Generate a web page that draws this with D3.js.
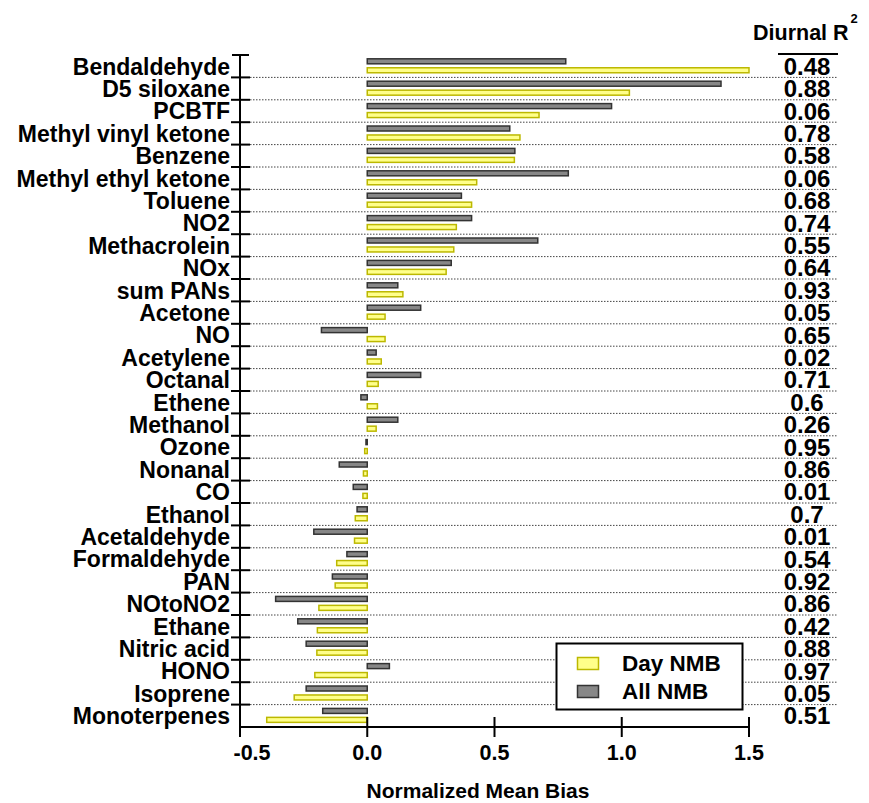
<!DOCTYPE html>
<html>
<head>
<meta charset="utf-8">
<script src="https://cdn.jsdelivr.net/npm/d3@7"></script>
<style>
  html, body { margin: 0; padding: 0; background: #fff; }
  svg { display: block; }
  text { font-family: "Liberation Sans", Arial, "DejaVu Sans", sans-serif; font-weight: bold; fill: #000; }
</style>
</head>
<body>
<svg id="chart" width="869" height="803"></svg>
<script>
// Species, top to bottom
const categories = [
  "Bendaldehyde", "D5 siloxane", "PCBTF", "Methyl vinyl ketone", "Benzene",
  "Methyl ethyl ketone", "Toluene", "NO2", "Methacrolein", "NOx",
  "sum PANs", "Acetone", "NO", "Acetylene", "Octanal",
  "Ethene", "Methanol", "Ozone", "Nonanal", "CO",
  "Ethanol", "Acetaldehyde", "Formaldehyde", "PAN", "NOtoNO2",
  "Ethane", "Nitric acid", "HONO", "Isoprene", "Monoterpenes"
];

// Normalized mean bias, all hours
const allNMB = [
  0.78, 1.39, 0.96, 0.56, 0.58,
  0.79, 0.37, 0.41, 0.67, 0.33,
  0.12, 0.21, -0.18, 0.035, 0.21,
  -0.025, 0.12, -0.005, -0.11, -0.055,
  -0.04, -0.21, -0.08, -0.137, -0.36,
  -0.273, -0.24, 0.087, -0.24, -0.175
];

// Normalized mean bias, daytime
const dayNMB = [
  1.5, 1.03, 0.675, 0.6, 0.578,
  0.43, 0.41, 0.35, 0.34, 0.31,
  0.14, 0.07, 0.07, 0.055, 0.043,
  0.04, 0.035, -0.01, -0.015, -0.017,
  -0.047, -0.05, -0.12, -0.126, -0.19,
  -0.196, -0.198, -0.206, -0.287, -0.395
];

// Diurnal R² for each species
const diurnalR2 = [
  "0.48", "0.88", "0.06", "0.78", "0.58",
  "0.06", "0.68", "0.74", "0.55", "0.64",
  "0.93", "0.05", "0.65", "0.02", "0.71",
  "0.6", "0.26", "0.95", "0.86", "0.01",
  "0.7", "0.01", "0.54", "0.92", "0.86",
  "0.42", "0.88", "0.97", "0.05", "0.51"
];

const xTicks = [-0.5, 0.0, 0.5, 1.0, 1.5];

const svg = d3.select("#chart");

const x = d3.scaleLinear().domain([-0.5, 1.5]).range([240, 749]);
const y = d3.scaleBand().domain(categories).range([55, 727]).padding(0);
const bw = y.bandwidth();

const colors = {
  dayFill: "#ffff8a", dayStroke: "#bcb800",
  allFill: "#878787", allStroke: "#333"
};

// Dotted separators between rows
svg.append("g")
  .selectAll("line")
  .data(categories.slice(1))
  .join("line")
  .attr("x1", 250).attr("x2", 838)
  .attr("y1", d => y(d)).attr("y2", d => y(d))
  .attr("stroke", "#444")
  .attr("stroke-width", 1)
  .attr("stroke-dasharray", "1.5,1.5");

// Bars
const rows = categories.map((c, i) => ({ c, all: allNMB[i], day: dayNMB[i], r2: diurnalR2[i] }));
const barH = 5;

svg.append("g")
  .selectAll("rect")
  .data(rows)
  .join("rect")
  .attr("x", d => x(Math.min(0, d.all)))
  .attr("width", d => Math.abs(x(d.all) - x(0)))
  .attr("y", d => y(d.c) + bw * 0.17)
  .attr("height", barH)
  .attr("fill", colors.allFill)
  .attr("stroke", colors.allStroke)
  .attr("stroke-width", 1.5);

svg.append("g")
  .selectAll("rect")
  .data(rows)
  .join("rect")
  .attr("x", d => x(Math.min(0, d.day)))
  .attr("width", d => Math.abs(x(d.day) - x(0)))
  .attr("y", d => y(d.c) + bw * 0.57)
  .attr("height", barH)
  .attr("fill", colors.dayFill)
  .attr("stroke", colors.dayStroke)
  .attr("stroke-width", 1.5);

// Y axis: spine, cap and row ticks
const yAxis = svg.append("g").attr("stroke", "#000").attr("stroke-width", 2);
yAxis.append("line").attr("x1", x(-0.5)).attr("x2", x(-0.5)).attr("y1", y.range()[0]).attr("y2", y.range()[1]);
yAxis.append("line").attr("x1", 232).attr("x2", 249).attr("y1", y.range()[0]).attr("y2", y.range()[0]);
yAxis.selectAll("line.tick")
  .data(categories.slice(1))
  .join("line")
  .attr("class", "tick")
  .attr("x1", 231).attr("x2", 250)
  .attr("y1", d => y(d)).attr("y2", d => y(d));

// Category labels
svg.append("g")
  .selectAll("text")
  .data(categories)
  .join("text")
  .attr("x", 230)
  .attr("y", d => y(d) + bw / 2 + 8.3)
  .attr("text-anchor", "end")
  .attr("font-size", 23)
  .text(d => d);

// X axis with ticks crossing the line
const xAxisY = y.range()[1];
const xAxis = svg.append("g").attr("stroke", "#000").attr("stroke-width", 2);
xAxis.append("line").attr("x1", x(-0.5)).attr("x2", x(1.5)).attr("y1", xAxisY).attr("y2", xAxisY);
xAxis.selectAll("line.tick")
  .data(xTicks)
  .join("line")
  .attr("class", "tick")
  .attr("x1", d => x(d)).attr("x2", d => x(d))
  .attr("y1", xAxisY - 10).attr("y2", xAxisY + 10);

svg.append("g")
  .selectAll("text")
  .data(xTicks)
  .join("text")
  .attr("x", d => x(d) + (d < 0 ? 12 : 0))
  .attr("y", 760)
  .attr("text-anchor", "middle")
  .attr("font-size", 21.5)
  .text(d => d3.format(".1f")(d).replace("−", "-"));

svg.append("text")
  .attr("x", 478)
  .attr("y", 798)
  .attr("text-anchor", "middle")
  .attr("font-size", 21)
  .text("Normalized Mean Bias");

// Diurnal R² column
const header = svg.append("text").attr("x", 753).attr("y", 40).attr("font-size", 21.5);
header.append("tspan").text("Diurnal R");
header.append("tspan").attr("font-size", 13).attr("dy", -17).attr("dx", 2).text("2");

svg.append("line")
  .attr("x1", 778).attr("x2", 838)
  .attr("y1", 54).attr("y2", 54)
  .attr("stroke", "#000").attr("stroke-width", 2);

svg.append("g")
  .selectAll("text")
  .data(rows)
  .join("text")
  .attr("x", 807)
  .attr("y", d => y(d.c) + bw / 2 + 8.5)
  .attr("text-anchor", "middle")
  .attr("font-size", 24)
  .text(d => d.r2);

// Legend
const legend = svg.append("g");
legend.append("rect")
  .attr("x", 556.5).attr("y", 643.5).attr("width", 186).attr("height", 66)
  .attr("fill", "#fff").attr("stroke", "#000").attr("stroke-width", 2);
const legendItems = [
  { label: "Day NMB", fill: colors.dayFill, stroke: colors.dayStroke },
  { label: "All NMB", fill: colors.allFill, stroke: colors.allStroke }
];
legendItems.forEach((d, i) => {
  legend.append("rect")
    .attr("x", 577.5).attr("y", 657.5 + i * 28)
    .attr("width", 21).attr("height", 12)
    .attr("fill", d.fill).attr("stroke", d.stroke).attr("stroke-width", 1.5);
  legend.append("text")
    .attr("x", 622).attr("y", 671 + i * 28)
    .attr("font-size", 22.5)
    .text(d.label);
});
</script>
</body>
</html>
